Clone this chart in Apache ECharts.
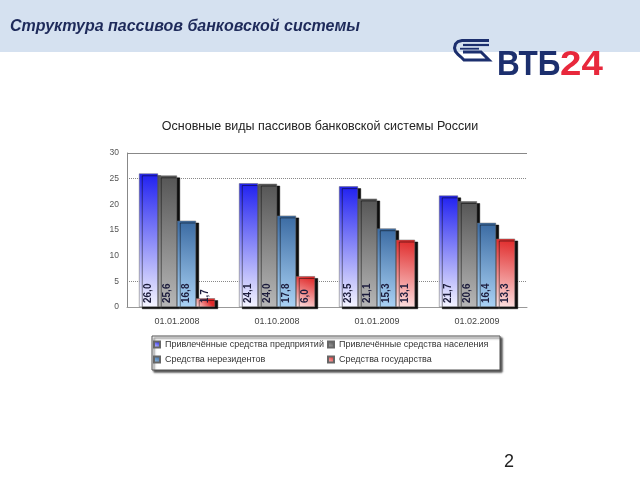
<!DOCTYPE html>
<html><head><meta charset="utf-8">
<script src="https://cdn.jsdelivr.net/npm/echarts@6/dist/echarts.min.js"></script>
<style>html,body{margin:0;padding:0;background:#fff}#c{width:640px;height:480px}</style>
</head><body><div id="c"></div>
<script>
const categories = ['01.01.2008', '01.10.2008', '01.01.2009', '01.02.2009'];
const seriesNames = ['Привлечённые средства предприятий', 'Привлечённые средства населения', 'Средства нерезидентов', 'Средства государства'];
const enterprises = [26.0, 24.1, 23.5, 21.7];
const households = [25.6, 24.0, 21.1, 20.6];
const nonResidents = [16.8, 17.8, 15.3, 16.4];
const government = [1.7, 6.0, 13.1, 13.3];
const yTicks = [0, 5, 10, 15, 20, 25, 30];

const chart = echarts.init(document.getElementById('c'), null, {renderer: 'canvas'});
function grad(top, bottom) {
  return {type: 'linear', x: 0.6, y: 0, x2: 0, y2: 1, colorStops: [{offset: 0, color: top}, {offset: 1, color: bottom}]};
}
const colors = [
  grad('#2020f0', '#f6f6ff'),
  grad('#555555', '#b8b8b8'),
  grad('#3a6aa2', '#acd4f6'),
  grad('#e02a2a', '#fde2e2')
];
const legendColors = ['#5a5ad0', '#666666', '#4f7fb5', '#e05050'];
const dataArr = [enterprises, households, nonResidents, government];
const fmt = v => v.toFixed(1).replace('.', ',');
const FONT = 'Liberation Sans, Arial, sans-serif';
const series = dataArr.map((d, i) => ({
  name: seriesNames[i],
  type: 'bar',
  data: d,
  barGap: '0%',
  barCategoryGap: '24%',
  itemStyle: {
    color: colors[i],
    borderColor: '#666',
    borderWidth: 0.5,
    shadowColor: 'rgba(0,0,0,0.95)',
    shadowOffsetX: 3,
    shadowOffsetY: 2,
    shadowBlur: 0
  },
  label: {
    show: true,
    position: 'insideBottom',
    distance: 4,
    rotate: 90,
    align: 'left',
    verticalAlign: 'middle',
    formatter: p => fmt(p.value),
    fontFamily: FONT,
    fontSize: 10,
    fontWeight: 'bold',
    color: '#1c1c3c'
  }
}));

const legendText = {fontSize: 9, color: '#333', fontFamily: FONT};
chart.setOption({
  animation: false,
  backgroundColor: '#fff',
  title: {
    text: 'Основные виды пассивов банковской системы России',
    left: 315, top: 115, textAlign: 'center',
    textStyle: {fontFamily: FONT, fontSize: 12.5, fontWeight: 'normal', color: '#222'}
  },
  legend: [
    {data: [seriesNames[0], seriesNames[2]], orient: 'vertical', left: 153, top: 340, padding: 0, itemWidth: 6, itemHeight: 6, itemGap: 6,
     icon: 'rect', textStyle: legendText},
    {data: [seriesNames[1], seriesNames[3]], orient: 'vertical', left: 327, top: 340, padding: 0, itemWidth: 6, itemHeight: 6, itemGap: 6,
     icon: 'rect', textStyle: legendText}
  ],
  color: legendColors,
  grid: {left: 127, right: 113, top: 153, bottom: 173},
  xAxis: {
    type: 'category', data: categories,
    axisLine: {show: true, lineStyle: {color: '#999'}},
    axisTick: {show: false},
    axisLabel: {fontSize: 9, color: '#444', margin: 10, fontFamily: FONT}
  },
  yAxis: [{
    type: 'value', min: 0, max: 30, interval: 5,
    axisLine: {show: true, lineStyle: {color: '#888'}},
    axisTick: {show: false},
    splitLine: {show: true, lineStyle: {color: ['transparent', '#888', 'transparent', 'transparent', 'transparent', '#888', 'transparent'], type: 'dotted', width: 1}},
    axisLabel: {fontSize: 8.5, color: '#555', margin: 8, fontFamily: FONT,
      formatter: v => yTicks.includes(v) ? String(v) : ''}
  }, {
    type: 'value', min: 0, max: 30, interval: 5, position: 'left',
    axisLine: {show: false}, axisTick: {show: false}, axisLabel: {show: false},
    splitLine: {show: true, lineStyle: {color: ['transparent', 'transparent', 'transparent', 'transparent', 'transparent', 'transparent', '#888'], type: 'solid', width: 1}}
  }],
  series: series,
  graphic: [
    {type: 'rect', z: -10, shape: {x: 0, y: 0, width: 640, height: 52}, style: {fill: '#d5e1f0'}},
    {type: 'text', x: 10, y: 19, style: {text: 'Структура пассивов банковской системы', font: 'italic bold 16px ' + FONT, fill: '#1e2a5a'}},
    {type: 'rect', shape: {x: 152, y: 336, width: 348, height: 34}, style: {fill: '#fff', stroke: '#555', lineWidth: 1, shadowColor: 'rgba(0,0,0,0.7)', shadowOffsetX: 2, shadowOffsetY: 2, shadowBlur: 2}, z: -1},
    {type: 'group', x: 497, y: 48, scaleX: 0.9, children: [
      {type: 'text', x: 0, y: 0, style: {text: 'ВТБ', font: 'bold 35px ' + FONT, fill: '#1c2f6e'}}
    ]},
    {type: 'group', x: 560, y: 48, scaleX: 1.1, children: [
      {type: 'text', x: 0, y: 0, style: {text: '24', font: 'bold 35px ' + FONT, fill: '#e8283c'}}
    ]},
    {type: 'polyline', shape: {points: [[489,40.5],[462,40.5],[458,41.5],[455.5,44],[454.5,48],[455.5,51.5],[458,54.5],[461,57],[464,60],[489,60],[481,52],[463,52]]},
     style: {fill: 'none', stroke: '#1c2f6e', lineWidth: 3}},
    {type: 'line', shape: {x1: 463, y1: 45, x2: 489, y2: 45}, style: {stroke: '#1c2f6e', lineWidth: 2.2}},
    {type: 'line', shape: {x1: 460, y1: 48.7, x2: 479, y2: 48.7}, style: {stroke: '#1c2f6e', lineWidth: 1.8}},
    {type: 'text', x: 504, y: 453, style: {text: '2', font: '18px ' + FONT, fill: '#222'}}
  ]
});
</script></body></html>
